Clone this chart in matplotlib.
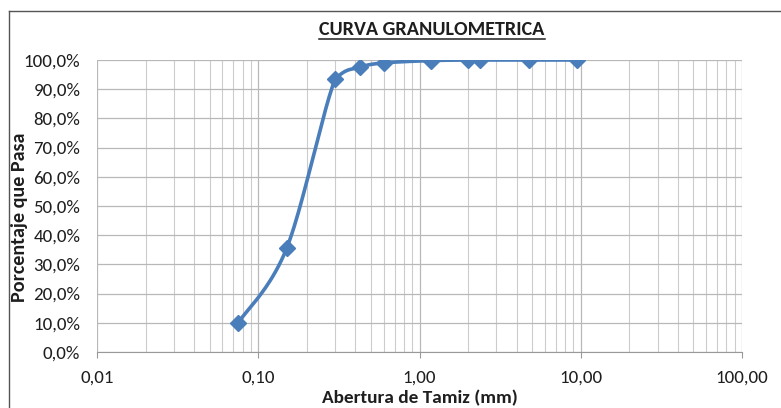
import matplotlib
matplotlib.use("Agg")
import matplotlib.pyplot as plt
from matplotlib import font_manager
from matplotlib.ticker import FixedLocator, LogLocator, NullFormatter, FuncFormatter
from matplotlib.lines import Line2D
import numpy as np

# sieve openings (mm) and percent passing
abertura = [0.075, 0.15, 0.30, 0.425, 0.60, 1.18, 2.00, 2.36, 4.75, 9.50]
pasa = [10.0, 35.5, 93.5, 97.5, 99.0, 99.8, 100.0, 100.0, 100.0, 100.0]

x_ticks = [0.01, 0.1, 1, 10, 100]
y_ticks = [0, 10, 20, 30, 40, 50, 60, 70, 80, 90, 100]

names = set(f.name for f in font_manager.fontManager.ttflist)
if 'Carlito' in names:
  plt.rcParams['font.family'] = ['Carlito', 'DejaVu Sans']
  k = 1.1
else:
  plt.rcParams['font.family'] = ['Lato', 'DejaVu Sans']
  k = 1.0

blue = '#4a7ebb'
dark = '#1e1e1e'


def smooth(xs, ys, n=40):
  # spreadsheet-style smoothed line (Catmull-Rom beziers in log-x),
  # control points kept between the two end values so it never overshoots
  lx = np.log10(xs)
  y = np.array(ys, dtype=float)
  px = np.concatenate([[lx[0]], lx, [lx[-1]]])
  py = np.concatenate([[y[0]], y, [y[-1]]])
  out_x, out_y = [], []
  t = np.linspace(0, 1, n)
  for i in range(1, len(px)-2):
    lo, hi = min(py[i], py[i+1]), max(py[i], py[i+1])
    bx = [px[i], px[i]+(px[i+1]-px[i-1])/6, px[i+1]-(px[i+2]-px[i])/6, px[i+1]]
    by = [py[i], np.clip(py[i]+(py[i+1]-py[i-1])/6, lo, hi),
          np.clip(py[i+1]-(py[i+2]-py[i])/6, lo, hi), py[i+1]]
    cx = (1-t)**3*bx[0] + 3*(1-t)**2*t*bx[1] + 3*(1-t)*t**2*bx[2] + t**3*bx[3]
    cy = (1-t)**3*by[0] + 3*(1-t)**2*t*by[1] + 3*(1-t)*t**2*by[2] + t**3*by[3]
    out_x.extend(cx)
    out_y.extend(cy)
  return 10**np.array(out_x), np.array(out_y)


fig = plt.figure(figsize=(7.81, 4.08), dpi=100)
ax = fig.add_axes([97/781, 1-352/408, 645/781, 292/408])

sx, sy = smooth(abertura, pasa)
ax.plot(sx, sy, color=blue, lw=2.6, solid_capstyle='round', zorder=3)
ax.plot(abertura, pasa, linestyle='none', marker='D', ms=8, color=blue, zorder=4)

ax.set_xscale('log')
ax.set_xlim(0.01, 100)
ax.set_ylim(0, 100)
ax.xaxis.set_major_locator(FixedLocator(x_ticks))
ax.xaxis.set_minor_locator(LogLocator(base=10, subs=np.arange(2, 10)))
ax.xaxis.set_minor_formatter(NullFormatter())
ax.xaxis.set_major_formatter(FuncFormatter(lambda v, p: ('%.2f' % v).replace('.', ',')))
ax.set_yticks(y_ticks)
ax.yaxis.set_major_formatter(FuncFormatter(lambda v, p: ('%.1f%%' % v).replace('.', ',')))

ax.grid(True, which='major', color='#b8b8b8', lw=0.9)
ax.grid(True, which='minor', axis='x', color='#cccccc', lw=0.8)
ax.set_axisbelow(True)
for s in ['top', 'right', 'left']:
  ax.spines[s].set_visible(False)
ax.spines['bottom'].set_color('#999999')
ax.tick_params(axis='both', which='both', length=0, labelsize=12.4*k, colors=dark)
ax.tick_params(axis='x', which='major', length=4, color='#999999', pad=9)
ax.tick_params(axis='y', pad=12)

ax.set_xlabel('Abertura de Tamiz (mm)', fontsize=12.6*k, fontweight='bold', labelpad=3, color=dark)
ax.set_ylabel('Porcentaje que Pasa', fontsize=13.2*k, fontweight='bold', color=dark)
ax.yaxis.set_label_coords(-0.107, 0.462)

title = fig.text(432/781, 1-35/408, 'CURVA GRANULOMETRICA', ha='center', va='baseline',
                 fontsize=13.2*k, fontweight='bold', color=dark)
fig.canvas.draw()
bb = title.get_window_extent().transformed(fig.transFigure.inverted())
fig.add_artist(Line2D([bb.x0, bb.x1], [1-38.5/408, 1-38.5/408],
                      color=dark, lw=1.1, transform=fig.transFigure))

# chart frame: only top and left edges show in the reference crop
fig.add_artist(Line2D([9/781, 1], [1-11/408, 1-11/408], color='#555555', lw=1.0,
                      transform=fig.transFigure))
fig.add_artist(Line2D([9/781, 9/781], [0, 1-11/408], color='#555555', lw=1.0,
                      transform=fig.transFigure))

fig.savefig('out.png', dpi=100)
